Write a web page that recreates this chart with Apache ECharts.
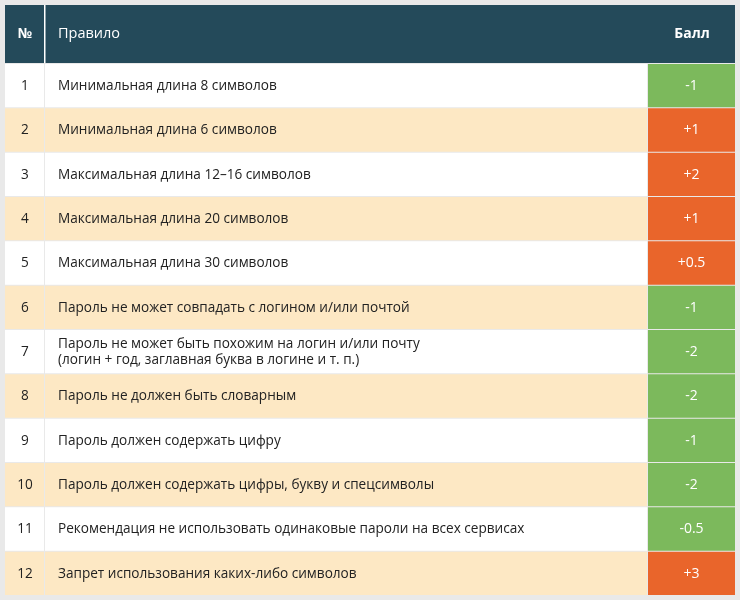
<!DOCTYPE html>
<html><head><meta charset="utf-8">
<script src="https://cdn.jsdelivr.net/npm/echarts@6/dist/echarts.min.js"></script>
<style>html,body{margin:0;padding:0;background:#e9e9e9}#c{width:740px;height:600px}</style>
</head><body><div id="c"></div>
<script>
const headers = ['№', 'Правило', 'Балл'];
const nums = ['1','2','3','4','5','6','7','8','9','10','11','12'];
const rules = [
 'Минимальная длина 8 символов',
 'Минимальная длина 6 символов',
 'Максимальная длина 12–16 символов',
 'Максимальная длина 20 символов',
 'Максимальная длина 30 символов',
 'Пароль не может совпадать с логином и/или почтой',
 'Пароль не может быть похожим на логин и/или почту\n(логин + год, заглавная буква в логине и т. п.)',
 'Пароль не должен быть словарным',
 'Пароль должен содержать цифру',
 'Пароль должен содержать цифры, букву и спецсимволы',
 'Рекомендация не использовать одинаковые пароли на всех сервисах',
 'Запрет использования каких-либо символов'
];
const scores = ['-1','+1','+2','+1','+0.5','-1','-2','-2','-1','-2','-0.5','+3'];
const colEdges = [0, 40, 643, 730];

const chart = echarts.init(document.getElementById('c'));
const font = '"Open Sans", "Noto Sans", sans-serif';
chart.setOption({
  backgroundColor: '#e9e9e9',
  animation: false,
  grid: {left: 5, right: 5, top: 64, bottom: 4},
  xAxis: {type: 'value', min: colEdges[0], max: colEdges[3], show: false},
  yAxis: {type: 'category', data: nums, inverse: true, show: false},
  graphic: [
    {type: 'rect', shape: {x: 5, y: 5, width: 730, height: 58}, style: {fill: '#244a5a'}},
    {type: 'rect', shape: {x: 44, y: 5, width: 1.5, height: 58}, style: {fill: '#ffffff'}},
    {type: 'text', x: 25, y: 34, style: {text: headers[0], fill: '#fff', font: 'bold 14px ' + font, align: 'center', verticalAlign: 'middle'}},
    {type: 'text', x: 58, y: 34, style: {text: headers[1], fill: '#fff', font: '14.5px ' + font, verticalAlign: 'middle'}},
    {type: 'text', x: 692, y: 34, style: {text: headers[2], fill: '#fff', font: 'bold 14px ' + font, align: 'center', verticalAlign: 'middle'}}
  ],
  series: [{
    type: 'custom',
    data: nums.map((n, i) => [i, scores[i]]),
    renderItem: function (params, api) {
      const i = api.value(0);
      const p0 = api.coord([colEdges[0], i]);
      const p1 = api.coord([colEdges[1], i]);
      const p2 = api.coord([colEdges[2], i]);
      const p3 = api.coord([colEdges[3], i]);
      const h = api.size([0, 1])[1];
      const top = p0[1] - h / 2, cy = p0[1];
      const bg = i % 2 === 1 ? '#fde8c4' : '#ffffff';
      const s = scores[i];
      const sc = s.startsWith('-') ? '#7cb95c' : '#e9652b';
      return {type: 'group', children: [
        {type: 'rect', shape: {x: p0[0], y: top, width: p1[0] - p0[0] - 1, height: h - 1}, style: {fill: bg}},
        {type: 'rect', shape: {x: p1[0], y: top, width: p2[0] - p1[0] - 1, height: h - 1}, style: {fill: bg}},
        {type: 'rect', shape: {x: p2[0], y: top, width: p3[0] - p2[0], height: h - 1}, style: {fill: sc}},
        {type: 'text', x: (p0[0] + p1[0]) / 2, y: cy, style: {text: nums[i], fill: '#222', font: '13.6px ' + font, align: 'center', verticalAlign: 'middle'}},
        {type: 'text', x: p1[0] + 13, y: cy, style: {text: rules[i], fill: '#222', font: '13.6px ' + font, verticalAlign: 'middle', lineHeight: 16}},
        {type: 'text', x: (p2[0] + p3[0]) / 2, y: cy, style: {text: s, fill: '#fff', font: '14px ' + font, align: 'center', verticalAlign: 'middle'}}
      ]};
    }
  }]
});
</script></body></html>
